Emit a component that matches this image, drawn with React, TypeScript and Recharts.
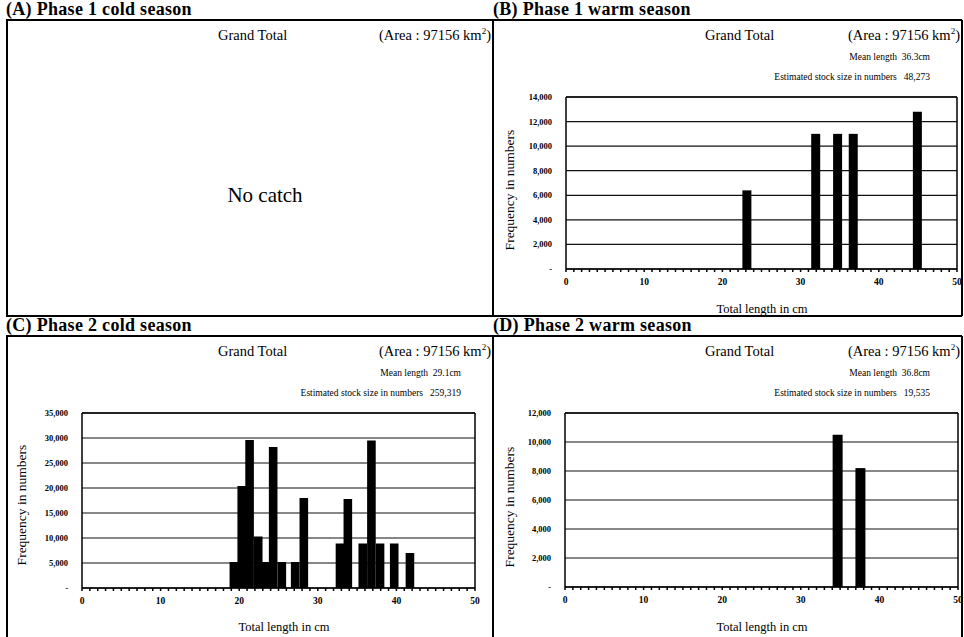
import React from 'react';
import { BarChart, Bar, XAxis, YAxis, CartesianGrid, ReferenceLine } from 'recharts';

// ---- data ----
const lengthB = [23.1, 31.9, 34.7, 36.7, 44.9];
const freqB = [6400, 11000, 11000, 11000, 12800];

const lengthC = [19.3, 20.3, 21.3, 22.4, 23.3, 24.3, 25.4, 27.1, 28.2, 32.8, 33.8, 35.7, 36.8, 37.9, 39.7, 41.7];
const freqC = [5200, 20400, 29600, 10300, 5200, 28200, 5200, 5200, 18000, 8900, 17800, 8900, 29500, 8900, 8900, 7000];

const lengthD = [34.7, 37.6];
const freqD = [10500, 8200];

const yTicksB = [0, 2000, 4000, 6000, 8000, 10000, 12000, 14000];
const yTicksC = [0, 5000, 10000, 15000, 20000, 25000, 30000, 35000];
const yTicksD = [0, 2000, 4000, 6000, 8000, 10000, 12000];
const xLabelTicks = [0, 10, 20, 30, 40, 50];
const xMinorTicks = Array.from({ length: 51 }, (_, i) => i);

const panelTitles = ['(A) Phase 1 cold season', '(B) Phase 1 warm season', '(C) Phase 2 cold season', '(D) Phase 2 warm season'];
const meanLengths = ['', 'Mean length  36.3cm', 'Mean length  29.1cm', 'Mean length  36.8cm'];
const stockSizes = ['', 'Estimated stock size in numbers   48,273', 'Estimated stock size in numbers   259,319', 'Estimated stock size in numbers   19,535'];

const serif = '"Liberation Serif", "DejaVu Serif", serif';

const toRows = (xs: number[], ys: number[]) => xs.map((x, i) => ({ len: x, freq: ys[i] }));
const fmtY = (v: number) => (v === 0 ? '-' : v.toLocaleString('en-US'));
const fmtX = (v: number) => (xLabelTicks.includes(v) ? String(v) : '');

type ChartProps = {
  rows: { len: number; freq: number }[];
  yTicks: number[];
  width: number;
  height: number;
  margin: { top: number; right: number; bottom: number; left: number };
  barWidth: number;
};

function LengthChart({ rows, yTicks, width, height, margin, barWidth }: ChartProps) {
  const yMax = yTicks[yTicks.length - 1];
  // keep bar centred on its scaled x position but with a fixed pixel width
  const shape = (p: any) => (
    <rect x={p.x + p.width / 2 - barWidth / 2} y={p.y} width={barWidth} height={p.height} fill="#000" />
  );
  return (
    <BarChart width={width} height={height} data={rows} margin={margin}>
      <CartesianGrid vertical={false} stroke="#111" strokeWidth={1.2} />
      <XAxis
        type="number"
        dataKey="len"
        domain={[0, 50]}
        ticks={xMinorTicks}
        interval={0}
        tickFormatter={fmtX}
        tickSize={3}
        tickMargin={6}
        height={30}
        stroke="#000"
        strokeWidth={1.5}
        tick={{ fontSize: 9.5, fontFamily: serif, fill: '#000', fontWeight: 'bold' }}
      />
      <YAxis
        type="number"
        domain={[0, yMax]}
        ticks={yTicks}
        interval={0}
        tickFormatter={fmtY}
        tickLine={false}
        tickMargin={8}
        width={40}
        stroke="#000"
        strokeWidth={1.5}
        tick={{ fontSize: 8.5, fontFamily: serif, fill: '#000', fontWeight: 'bold' }}
      />
      <ReferenceLine x={50} stroke="#000" strokeWidth={1.5} />
      <ReferenceLine y={yMax} stroke="#000" strokeWidth={1.5} />
      <Bar dataKey="freq" fill="#000" shape={shape} isAnimationActive={false} />
    </BarChart>
  );
}

const abs = (style: React.CSSProperties): React.CSSProperties => ({ position: 'absolute', ...style });

function HLine({ x1, x2, y }: { x1: number; x2: number; y: number }) {
  return <div style={abs({ left: x1, top: y - 1, width: x2 - x1, height: 2, background: '#000' })} />;
}
function VLine({ x, y1, y2 }: { x: number; y1: number; y2: number }) {
  return <div style={abs({ left: x - 1, top: y1, width: 2, height: y2 - y1, background: '#000' })} />;
}

function Header({ left, top, width, idx }: { left: number; top: number; width: number; idx: number }) {
  return (
    <>
      <div
        style={abs({
          left: left,
          top: top - 21,
          fontFamily: serif,
          fontWeight: 'bold',
          fontSize: 18,
          letterSpacing: 0.3,
          whiteSpace: 'nowrap',
          lineHeight: '20px',
        })}
      >
        {panelTitles[idx]}
      </div>
      <div style={abs({ left: left + 212, top: top + 6, fontFamily: serif, fontSize: 14.5, whiteSpace: 'nowrap', lineHeight: '18px' })}>
        Grand Total
      </div>
      <div
        style={abs({
          right: 964 - (left + width - 2),
          top: top + 6,
          fontFamily: serif,
          fontSize: 14.5,
          whiteSpace: 'nowrap',
          lineHeight: '18px',
        })}
      >
        (Area : 97156 km<sup style={{ fontSize: 9, lineHeight: 0 }}>2</sup>)
      </div>
      {meanLengths[idx] && (
        <div style={abs({ right: 964 - (left + width - 32), top: top + 31, fontFamily: serif, fontSize: 9.5, whiteSpace: 'pre', lineHeight: '12px' })}>
          {meanLengths[idx]}
        </div>
      )}
      {stockSizes[idx] && (
        <div style={abs({ right: 964 - (left + width - 32), top: top + 51, fontFamily: serif, fontSize: 9.5, whiteSpace: 'pre', lineHeight: '12px' })}>
          {stockSizes[idx]}
        </div>
      )}
    </>
  );
}

function AxisTitles({ yx, yy, xx, xy }: { yx: number; yy: number; xx: number; xy: number }) {
  return (
    <>
      <div
        style={abs({
          left: yx - 80,
          top: yy - 9,
          width: 160,
          height: 18,
          lineHeight: '18px',
          textAlign: 'center',
          transform: 'rotate(-90deg)',
          fontFamily: serif,
          fontSize: 13.5,
          whiteSpace: 'nowrap',
        })}
      >
        Frequency in numbers
      </div>
      <div
        style={abs({
          left: xx - 80,
          top: xy - 9,
          width: 160,
          height: 18,
          lineHeight: '18px',
          textAlign: 'center',
          fontFamily: serif,
          fontSize: 12.5,
          whiteSpace: 'nowrap',
        })}
      >
        Total length in cm
      </div>
    </>
  );
}

export default function App() {
  return (
    <div style={{ position: 'absolute', left: 0, top: 0, width: 964, height: 637, background: '#fff', overflow: 'hidden' }}>
      {/* frames */}
      <HLine x1={6} x2={962} y={20} />
      <HLine x1={6} x2={962} y={316} />
      <HLine x1={6} x2={962} y={336} />
      <VLine x={7} y1={20} y2={316} />
      <VLine x={7} y1={336} y2={637} />
      <VLine x={493} y1={20} y2={316} />
      <VLine x={493} y1={336} y2={637} />
      <VLine x={962} y1={20} y2={316} />
      <VLine x={962} y1={336} y2={637} />

      <Header left={6} top={20} width={487} idx={0} />
      <Header left={493} top={20} width={469} idx={1} />
      <Header left={6} top={336} width={487} idx={2} />
      <Header left={493} top={336} width={469} idx={3} />

      {/* A: no catch */}
      <div style={abs({ left: 165, top: 182, width: 200, textAlign: 'center', fontFamily: serif, fontSize: 21, lineHeight: '26px' })}>
        No catch
      </div>

      {/* B */}
      <div style={abs({ left: 494, top: 20 })}>
        <LengthChart
          rows={toRows(lengthB, freqB)}
          yTicks={yTicksB}
          width={468}
          height={293}
          margin={{ top: 77, right: 5, bottom: 14, left: 32 }}
          barWidth={9}
        />
      </div>
      <AxisTitles yx={510} yy={190} xx={762} xy={309} />

      {/* C */}
      <div style={abs({ left: 6, top: 336 })}>
        <LengthChart
          rows={toRows(lengthC, freqC)}
          yTicks={yTicksC}
          width={487}
          height={301}
          margin={{ top: 77, right: 18, bottom: 19, left: 36 }}
          barWidth={8.6}
        />
      </div>
      <AxisTitles yx={22} yy={505} xx={284} xy={627} />

      {/* D */}
      <div style={abs({ left: 494, top: 336 })}>
        <LengthChart
          rows={toRows(lengthD, freqD)}
          yTicks={yTicksD}
          width={468}
          height={301}
          margin={{ top: 77, right: 4, bottom: 20, left: 31 }}
          barWidth={10}
        />
      </div>
      <AxisTitles yx={510} yy={507} xx={762} xy={627} />
    </div>
  );
}
